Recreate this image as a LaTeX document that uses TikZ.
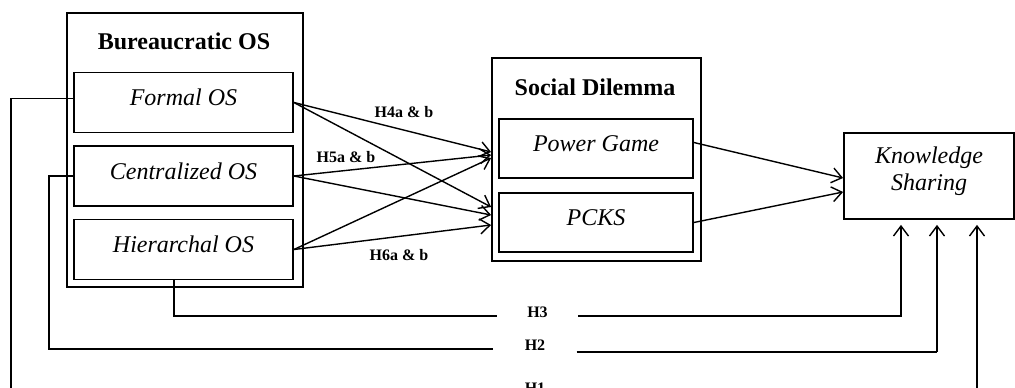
\documentclass[tikz,border=0pt]{standalone}
\usepackage{fontspec}
\setmainfont{Liberation Serif}
\usetikzlibrary{arrows.meta}

\tikzset{
  outbox/.style={draw, line width=1.8pt, inner sep=0pt},
  inbox/.style={draw, line width=1.8pt, inner sep=0pt, minimum height=60pt},
  boxtxt/.style={font=\itshape\fontsize{24}{27}\selectfont, yshift=5pt, inner sep=0pt},
  ttl/.style={font=\bfseries\fontsize{24}{27}\selectfont, inner sep=0pt},
  hyp/.style={font=\bfseries\fontsize{16}{18}\selectfont, inner sep=0pt},
  arr/.style={line width=1.4pt, -{Straight Barb[length=10pt,width=15pt]}},
  lnk/.style={line width=1.6pt},
}

\begin{document}
\begin{tikzpicture}[x=1pt,y=-1pt]
\useasboundingbox (0,0) rectangle (1015,388);

% bureaucratic OS
\node[outbox, minimum width=236pt, minimum height=274pt] (bur) at (185,150) {};
\node[ttl] (burttl) at (184,41) {Bureaucratic OS};
\node[inbox, minimum width=219pt, label={[boxtxt]center:Formal OS}] (formal) at (183.5,102.5) {};
\node[inbox, minimum width=219pt, label={[boxtxt]center:Centralized OS}] (central) at (183.5,176) {};
\node[inbox, minimum width=219pt, label={[boxtxt]center:Hierarchal OS}] (hier) at (183.5,249.5) {};

% social dilemma
\node[outbox, minimum width=209pt, minimum height=203pt] (soc) at (596.5,159.5) {};
\node[ttl] (socttl) at (595,87) {Social Dilemma};
\node[inbox, minimum width=194pt, minimum height=59pt, label={[boxtxt]center:Power Game}] (power) at (596,148.5) {};
\node[inbox, minimum width=194pt, minimum height=59pt, label={[boxtxt]center:PCKS}] (pcks) at (596,222.5) {};

% knowledge sharing
\node[outbox, minimum width=170pt, minimum height=86pt, label={[boxtxt,align=center]center:{Knowledge\\Sharing}}] (know) at (929,176) {};

% H4 - H6
\draw[arr] (formal.east) -- ([yshift=7.5pt]soc.west);
\draw[arr] (formal.east) -- ([yshift=-47.5pt]soc.west);
\draw[arr] (central.east) -- ([yshift=4.5pt]soc.west);
\draw[arr] (central.east) -- ([yshift=-55.5pt]soc.west);
\draw[arr] (hier.east) -- ([yshift=1.5pt]soc.west);
\draw[arr] (hier.east) -- ([yshift=-65.5pt]soc.west);
\node[hyp] (h4) at (404,112) {H4a \& b};
\node[hyp] (h5) at (346,157) {H5a \& b};
\node[hyp] (h6) at (399,255) {H6a \& b};

\draw[arr] ([yshift=6pt]power.east) -- ([yshift=-2pt]know.west);
\draw[arr] (pcks.east) -- ([yshift=-16pt]know.west);

% H1 - H3
\coordinate (k3) at ([xshift=-28pt,yshift=-5pt]know.south);
\coordinate (k2) at ([xshift=8pt,yshift=-5pt]know.south);
\coordinate (k1) at ([xshift=48pt,yshift=-5pt]know.south);

\node[hyp, minimum width=81pt, text depth=8pt] (h3) at (537.5,316) {H3};
\draw[lnk] ([xshift=-9.5pt]hier.south) |- (h3.west);
\draw[arr] (h3.east) -| (k3);

\node[hyp, minimum width=83pt, text depth=8pt] (h2) at (535,349) {H2};
\draw[lnk] (central.west) -- ++(-24,0) |- (h2.west);
\coordinate (h2r) at ([yshift=-3pt]h2.east);
\draw[line width=2.4pt] (h2r) -- (h2r -| k2);
\draw[arr] (h2r -| k2) -- (k2);

\node[hyp, minimum width=83pt, text depth=8pt] (h1) at (535,392) {H1};
\draw[lnk] ([yshift=4pt]formal.west) -- ++(-62,0) |- (h1.west);
\draw[arr] (h1.east) -| (k1);

\end{tikzpicture}
\end{document}
